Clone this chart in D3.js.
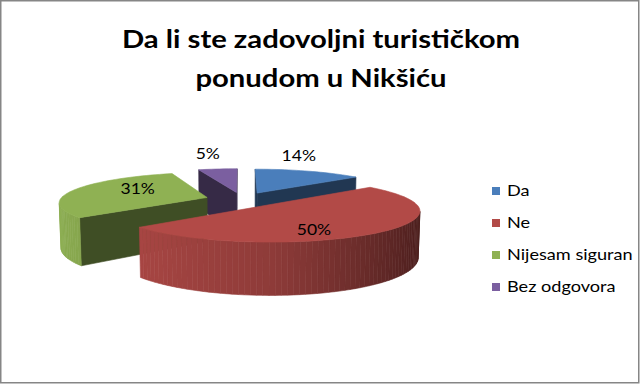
<!DOCTYPE html>
<html>
<head>
<meta charset="utf-8">
<script src="https://cdn.jsdelivr.net/npm/d3@7"></script>
<style>
  body { margin: 0; background: #fff; }
  text { font-family: Lato, "Open Sans", sans-serif; fill: #000; }
</style>
</head>
<body>
<svg id="chart" width="641" height="385"></svg>
<script>
const categories = ['Da', 'Ne', 'Nijesam siguran', 'Bez odgovora']
const values = [14, 50, 31, 5]
const colors = ['#4a7ebb', '#b24a47', '#8fb153', '#7b5fa0']
const titleLines = ['Da li ste zadovoljni turističkom', 'ponudom u Nikšiću']

const W = 641, H = 385
// the original is a little wider than the fonts we have
const stretch = 1.17
const svg = d3.select('#chart')

// frame
svg.append('rect')
  .attr('x', 0.75).attr('y', 0.75)
  .attr('width', W - 3).attr('height', H - 3)
  .attr('fill', '#fff')
  .attr('stroke', '#868686')
  .attr('stroke-width', 1.5)

// title
svg.append('g')
  .selectAll('text')
  .data(titleLines)
  .join('text')
  .attr('transform', (d, i) => `translate(321,${48 + i * 39}) scale(${stretch},1)`)
  .attr('text-anchor', 'middle')
  .attr('font-size', 25)
  .attr('font-weight', 'bold')
  .text(d => d)

// 3d pie: flat disc of radius 1, seen from a tilted camera with perspective
const view = { cx: 242, cy: 199.5, f: 955, dist: 6.5, tilt: 11.5 * Math.PI / 180 }
const thick = 0.31
const explode = 0.25
const sinT = Math.sin(view.tilt), cosT = Math.cos(view.tilt)
const camera = [0, view.dist * sinT, view.dist * cosT]

const project = ([x, y, z]) => {
  const depth = view.dist - y * sinT - z * cosT
  return [view.cx + view.f * x / depth, view.cy - view.f * (y * cosT - z * sinT) / depth]
}

const facing = (n, p) =>
  n[0] * (camera[0] - p[0]) + n[1] * (camera[1] - p[1]) + n[2] * (camera[2] - p[2]) > 0

const shade = (c, k) => {
  const rgb = d3.rgb(c)
  return d3.rgb(rgb.r * k, rgb.g * k, rgb.b * k).formatHex()
}
const sideShade = d3.scaleLinear().domain([-1, 0, 1]).range([0.98, 0.8, 0.42])
const edgeShade = 0.44

const color = d3.scaleOrdinal().domain(categories).range(colors)
const total = d3.sum(values)
const arcs = d3.pie().sort(null).value(d => d)(values)
  .map((a, i) => {
    const mid = (a.startAngle + a.endAngle) / 2
    return { ...a, i, mid, ox: explode * Math.sin(mid), oz: -explode * Math.cos(mid) }
  })

const pt = (s, ang, r, y) => [s.ox + r * Math.sin(ang), y, s.oz - r * Math.cos(ang)]
const poly = d3.line().curve(d3.curveLinearClosed)

function faces (s) {
  const base = color(categories[s.i])
  const out = []
  const steps = Math.max(2, Math.ceil((s.endAngle - s.startAngle) / (Math.PI / 90)))
  const angles = d3.range(steps + 1).map(k => s.startAngle + (s.endAngle - s.startAngle) * k / steps)
  const apexTop = pt(s, 0, 0, 0), apexBot = pt(s, 0, 0, -thick)

  // radial side faces
  const a0 = s.startAngle, a1 = s.endAngle
  const n0 = [-Math.cos(a0), 0, -Math.sin(a0)]
  const n1 = [Math.cos(a1), 0, Math.sin(a1)]
  if (facing(n0, apexTop)) out.push({ pts: [apexTop, pt(s, a0, 1, 0), pt(s, a0, 1, -thick), apexBot], fill: shade(base, edgeShade) })
  if (facing(n1, apexTop)) out.push({ pts: [apexTop, pt(s, a1, 1, 0), pt(s, a1, 1, -thick), apexBot], fill: shade(base, edgeShade) })

  // curved outer side
  for (let k = 0; k < steps; k++) {
    const am = (angles[k] + angles[k + 1]) / 2
    const n = [Math.sin(am), 0, -Math.cos(am)]
    const p = pt(s, am, 1, 0)
    if (!facing(n, p)) continue
    out.push({
      pts: [pt(s, angles[k], 1, 0), pt(s, angles[k + 1], 1, 0), pt(s, angles[k + 1], 1, -thick), pt(s, angles[k], 1, -thick)],
      fill: shade(base, sideShade(Math.sin(am)))
    })
  }

  // top
  out.push({ pts: [apexTop, ...angles.map(a => pt(s, a, 1, 0))], fill: base })
  return out
}

const centroidZ = s => s.oz - 0.5 * Math.cos(s.mid)
const order = arcs.slice().sort((a, b) => centroidZ(a) - centroidZ(b))

const pie = svg.append('g')
order.forEach(s => {
  pie.append('g')
    .selectAll('path')
    .data(faces(s))
    .join('path')
    .attr('d', d => poly(d.pts.map(project)))
    .attr('fill', d => d.fill)
    .attr('stroke', d => d.fill)
    .attr('stroke-width', 0.6)
    .attr('stroke-linejoin', 'round')
})

// data labels: small slices outside above the rim, others on the top face
const labelPos = s => {
  if (s.value / total < 0.2) {
    const [x, y] = project(pt(s, s.mid, 1, 0))
    return [x - 10, y - 15]
  }
  const [x, y] = project(pt(s, s.mid + 19 * Math.PI / 180, 0.68, 0))
  return [x + 5, y + 2]
}

svg.append('g')
  .selectAll('text')
  .data(arcs)
  .join('text')
  .attr('transform', d => `translate(${labelPos(d)}) scale(${stretch},1)`)
  .attr('text-anchor', 'middle')
  .attr('dy', '0.35em')
  .attr('font-size', 15)
  .text(d => Math.round(d.value / total * 100) + '%')

// legend
const legend = svg.append('g').attr('transform', 'translate(492,191)')
const item = legend.selectAll('g')
  .data(categories)
  .join('g')
  .attr('transform', (d, i) => `translate(0,${i * 32})`)

item.append('rect')
  .attr('x', 0).attr('y', -4)
  .attr('width', 8).attr('height', 8)
  .attr('fill', d => color(d))

item.append('text')
  .attr('transform', `translate(15,0) scale(${stretch},1)`)
  .attr('dy', '0.35em')
  .attr('font-size', 15.5)
  .text(d => d)
</script>
</body>
</html>
